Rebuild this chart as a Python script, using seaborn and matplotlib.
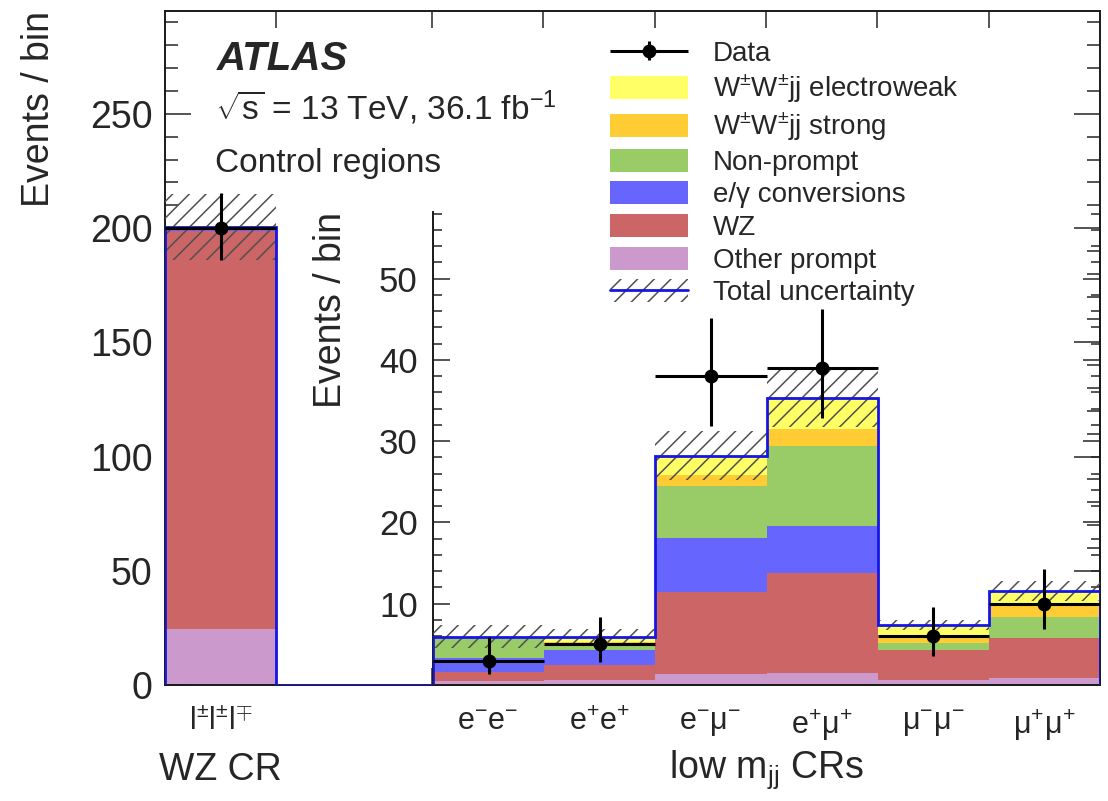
import numpy as np
import pandas as pd
import matplotlib.pyplot as plt
import seaborn as sns
from matplotlib.patches import Patch
from matplotlib.lines import Line2D
from matplotlib.ticker import MultipleLocator, FixedLocator
from matplotlib.container import ErrorbarContainer
from matplotlib.legend_handler import HandlerErrorbar, HandlerTuple

sns.set_style('ticks')
plt.rcParams['font.family'] = ['Liberation Sans', 'DejaVu Sans']
plt.rcParams['mathtext.fontset'] = 'custom'
plt.rcParams['mathtext.rm'] = 'Liberation Sans'
plt.rcParams['mathtext.it'] = 'Liberation Sans:italic'
plt.rcParams['mathtext.bf'] = 'Liberation Sans:bold'
plt.rcParams['hatch.linewidth'] = 1.1
plt.rcParams['axes.linewidth'] = 1.4
plt.rcParams['axes.edgecolor'] = '#1a1a1a'

# 0. Data: WZ CR first, then the six low mjj CRs
region_labels = ['l$^{\\pm}$l$^{\\pm}$l$^{\\mp}$',
                 'e$^{-}$e$^{-}$', 'e$^{+}$e$^{+}$',
                 'e$^{-}$μ$^{-}$', 'e$^{+}$μ$^{+}$',
                 'μ$^{-}$μ$^{-}$', 'μ$^{+}$μ$^{+}$']

ewk       = [0.3, 0.15, 0.6, 2.3, 3.8, 1.3, 1.5]
strong    = [0.5, 0.1, 0.4, 1.4, 2.1, 0.9, 1.7]
nonprompt = [0.5, 2.4, 0.6, 6.4, 9.8, 0.9, 2.6]
conv      = [0.3, 1.7, 1.8, 6.7, 5.8, 0.0, 0.0]
wz        = [174.4, 1.1, 1.9, 10.1, 12.3, 3.7, 4.9]
other     = [24.5, 0.5, 0.6, 1.3, 1.5, 0.6, 0.9]
syst_unc  = [14.5, 1.45, 1.0, 3.0, 3.6, 0.65, 1.25]

data      = [200, 3, 5, 38, 39, 6, 10]
data_lo   = [14.1, 1.6, 2.2, 6.1, 6.2, 2.4, 3.1]
data_hi   = [15.2, 2.9, 3.4, 7.2, 7.3, 3.6, 4.3]

proc_names = ['W$^{\\pm}$W$^{\\pm}$jj electroweak', 'W$^{\\pm}$W$^{\\pm}$jj strong',
              'Non-prompt', 'e/γ conversions', 'WZ', 'Other prompt']
proc_colors = ['#ffff66', '#ffcc33', '#99cc66', '#6666ff', '#cc6666', '#cc99cc']

# 1. Build a long table for seaborn
left_edges = np.array([0.0] + [2.4 + k for k in range(6)])
centers = left_edges + 0.5
proc_vals = [ewk, strong, nonprompt, conv, wz, other]
df = pd.DataFrame({'x': np.tile(centers, len(proc_names)),
                   'process': np.repeat(proc_names, len(centers)),
                   'n': np.concatenate(proc_vals)})
total = np.sum(np.array(proc_vals), axis=0)
unc = np.array(syst_unc)
pal = dict(zip(proc_names, proc_colors))

fig = plt.figure(figsize=(11.08, 8.01), dpi=100)
ax = fig.add_axes([165/1108, 116/801, 935/1108, 674/801])
axin = fig.add_axes([433/1108, 116/801, 667/1108, 473/801])
axin.patch.set_alpha(0)

# 2. Stacks
sns.histplot(data=df[df.x < 1], x='x', weights='n', hue='process', hue_order=proc_names,
             multiple='stack', bins=[0.0, 1.0], palette=pal, alpha=1, linewidth=0,
             edgecolor='none', legend=False, ax=ax)
in_edges = [float(e) for e in left_edges[1:]] + [float(left_edges[-1] + 1)]
sns.histplot(data=df[df.x > 2], x='x', weights='n', hue='process', hue_order=proc_names,
             multiple='stack', bins=in_edges, palette=pal, alpha=1, linewidth=0,
             edgecolor='none', legend=False, ax=axin)

# uncertainty band
hatch_col = '#505050'
ax.bar(centers[:1], 2*unc[:1], bottom=total[:1]-unc[:1], width=1, fill=False,
       hatch='//', edgecolor=hatch_col, linewidth=0, zorder=3)
axin.bar(centers[1:], 2*unc[1:], bottom=total[1:]-unc[1:], width=1, fill=False,
         hatch='//', edgecolor=hatch_col, linewidth=0, zorder=3)

# total line
line_col = '#1515e6'
ax.stairs([total[0], 0], [0, 1, 2.4], baseline=0, color=line_col, lw=2.0, zorder=4)
axin.stairs(total[1:], in_edges, baseline=0, color=line_col, lw=2.0, zorder=4)

# data
ax.errorbar(centers[:1], data[:1], xerr=0.5, yerr=[data_lo[:1], data_hi[:1]], fmt='o',
            color='k', ms=9, elinewidth=2.2, capsize=0, zorder=5)
eb = axin.errorbar(centers[1:], data[1:], xerr=0.5, yerr=[data_lo[1:], data_hi[1:]], fmt='o',
                   color='k', ms=9, elinewidth=2.2, capsize=0, zorder=5)

# 3. Axes styling
ax.set_xlim(0, 8.4)
ax.set_ylim(0, 295)
axin.set_xlim(2.4, 8.4)
axin.set_ylim(0, 58.2)

ax.yaxis.set_major_locator(MultipleLocator(50))
ax.yaxis.set_minor_locator(MultipleLocator(10))
ax.xaxis.set_major_locator(FixedLocator([1, 2.4, 3.4, 4.4, 5.4, 6.4, 7.4]))
ax.xaxis.set_minor_locator(FixedLocator(centers))
ax.set_xticklabels([], minor=False)
ax.set_xticklabels(region_labels, minor=True)
ax.tick_params(axis='y', which='major', direction='in', length=19, width=1.1,
               labelsize=27, pad=9, right=True, left=True)
ax.tick_params(axis='y', which='minor', direction='in', length=9.5, width=1.1,
               right=True, left=True)
ax.tick_params(axis='x', which='major', direction='in', length=12, width=1.1,
               top=True, bottom=True)
ax.tick_params(axis='x', which='minor', length=0, labelsize=22, pad=16)
ax.set_xlabel('')
ax.set_ylabel('Events / bin', fontsize=27, loc='top')
ax.yaxis.set_label_coords(-0.116, 1.0)

axin.yaxis.set_major_locator(FixedLocator([10, 20, 30, 40, 50]))
axin.yaxis.set_minor_locator(MultipleLocator(2))
axin.xaxis.set_major_locator(FixedLocator([3.4, 4.4, 5.4, 6.4, 7.4]))
axin.set_xticklabels([])
axin.tick_params(axis='y', which='major', direction='in', length=12, width=1.1,
                 labelsize=25, pad=11, right=True, left=True)
axin.tick_params(axis='y', which='minor', direction='in', length=6.5, width=1.1,
                 right=True, left=True)
axin.tick_params(axis='x', which='major', direction='in', length=13, width=1.1,
                 top=False, bottom=True)
axin.spines['top'].set_visible(False)
axin.set_xlabel('')
axin.set_ylabel('Events / bin', fontsize=27, loc='top')
axin.yaxis.set_label_coords(-0.126, 1.0)

# 4. Texts
ax.text(0.0556, 0.9125, 'ATLAS', weight='bold', style='italic', fontsize=29,
        transform=ax.transAxes, va='baseline')
ax.text(0.0535, 0.8383, r'$\sqrt{\mathrm{s}}$ = 13 TeV, 36.1 fb$^{-1}$', fontsize=24,
        transform=ax.transAxes, va='baseline')
ax.text(0.0535, 0.761, 'Control regions', fontsize=24, transform=ax.transAxes, va='baseline')
trans = ax.get_xaxis_transform()
ax.text(0.5, -0.126, 'WZ CR', fontsize=27, ha='center', va='center', transform=trans)
ax.text(5.4, -0.126, 'low m$_{\\rm jj}$ CRs', fontsize=27, ha='center', va='center',
        transform=trans)

# 5. Legend
handles = [eb] + [Patch(facecolor=c, edgecolor='none') for c in proc_colors] + \
          [(Patch(facecolor='none', edgecolor=hatch_col, hatch='//', linewidth=0),
            Line2D([], [], color=line_col, lw=2.0))]
labels = ['Data'] + proc_names + ['Total uncertainty']
fig.legend(handles, labels, loc='upper left', bbox_to_anchor=(610/1108, 1 - 40/801),
           frameon=False, fontsize=20, handlelength=2.8, handleheight=0.9,
           handletextpad=0.9, labelspacing=0.2, borderpad=0, borderaxespad=0,
           numpoints=1,
           handler_map={ErrorbarContainer: HandlerErrorbar(xerr_size=1.4, yerr_size=0.35),
                        tuple: HandlerTuple(ndivide=1, pad=0)})

fig.savefig('out.png', dpi=100)
